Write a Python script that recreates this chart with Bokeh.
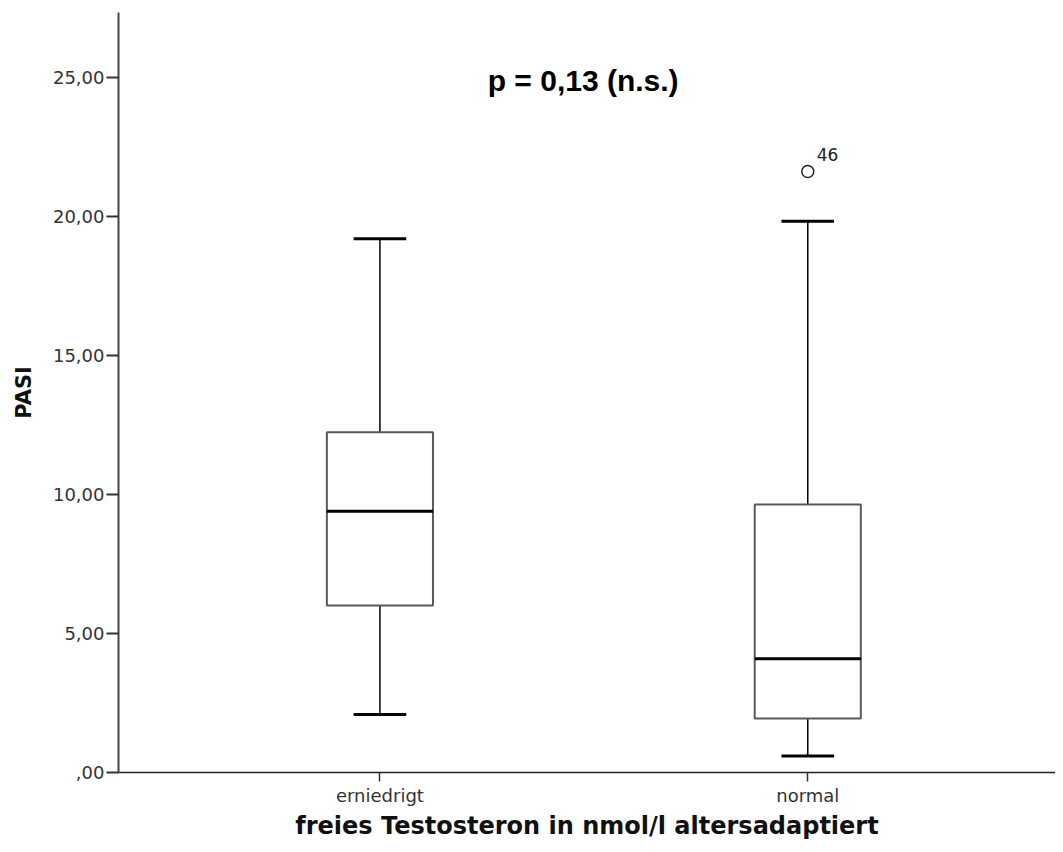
from bokeh.plotting import figure
from bokeh.models import FixedTicker, Label
from bokeh.core.properties import value
from bokeh.embed import file_html
from bokeh.resources import INLINE

# ---- data ----
categories = ["erniedrigt", "normal"]
lower_whisker = [2.09, 0.59]
q1 = [6.01, 1.94]
median = [9.40, 4.09]
q3 = [12.24, 9.64]
upper_whisker = [19.20, 19.83]
outlier_cat = ["normal"]
outlier_val = [21.62]
outlier_id = ["46"]
y_ticks = [0, 5, 10, 15, 20, 25]
y_tick_labels = [",00", "5,00", "10,00", "15,00", "20,00", "25,00"]
title_text = "p = 0,13 (n.s.)"

xs = [i + 1 for i in range(len(categories))]
ox = [categories.index(c) + 1 for c in outlier_cat]

BOX_W = 0.248
CAP_W = 0.123

p = figure(width=1055, height=844, output_backend="svg", toolbar_location=None,
           x_range=(0.389, 2.579), y_range=(0, 27.34),
           min_border_left=118, min_border_right=0, min_border_top=12, min_border_bottom=72)
p.grid.visible = False
p.outline_line_color = None
p.background_fill_color = "white"
p.border_fill_color = "white"

# whiskers
p.segment(x0=xs, y0=q3, x1=xs, y1=upper_whisker, line_color="black", line_width=1.5)
p.segment(x0=xs, y0=q1, x1=xs, y1=lower_whisker, line_color="black", line_width=1.5)
# caps
p.segment(x0=[x - CAP_W / 2 for x in xs], y0=upper_whisker,
          x1=[x + CAP_W / 2 for x in xs], y1=upper_whisker, line_color="black", line_width=3)
p.segment(x0=[x - CAP_W / 2 for x in xs], y0=lower_whisker,
          x1=[x + CAP_W / 2 for x in xs], y1=lower_whisker, line_color="black", line_width=3)
# boxes
p.vbar(x=xs, width=BOX_W, bottom=q1, top=q3, fill_color="white",
       line_color="#5a5a5a", line_width=2)
# medians
p.segment(x0=[x - BOX_W / 2 for x in xs], y0=median,
          x1=[x + BOX_W / 2 for x in xs], y1=median, line_color="black", line_width=3)
# outlier
p.scatter(x=ox, y=outlier_val, marker="circle", size=12, fill_color=None,
          line_color="#222222", line_width=1.5)
p.text(x=ox, y=outlier_val, text=outlier_id, x_offset=9, y_offset=-17,
       text_font=value("DejaVu Sans"), text_font_size="17px", text_color="#222222",
       text_baseline="middle", text_align="left")

# title label
p.add_layout(Label(x=1.475, y=24.9, text=title_text, text_font="Liberation Sans",
                   text_font_style="bold", text_font_size="30px", text_color="black",
                   text_align="center", text_baseline="middle"))

# axes
p.yaxis.ticker = FixedTicker(ticks=y_ticks)
p.yaxis.major_label_overrides = {t: l for t, l in zip(y_ticks, y_tick_labels)}
p.yaxis.minor_tick_line_color = None
p.yaxis.major_tick_in = 0
p.yaxis.major_tick_out = 12
p.yaxis.major_tick_line_color = "#333333"
p.yaxis.major_tick_line_width = 2
p.yaxis.axis_line_color = "#444444"
p.yaxis.axis_line_width = 2
p.yaxis.major_label_text_font = "DejaVu Sans"
p.yaxis.major_label_text_font_size = "18px"
p.yaxis.major_label_text_color = "#333333"
p.yaxis.major_label_standoff = 2
p.yaxis.axis_label = "PASI"
p.yaxis.axis_label_text_font = "DejaVu Sans"
p.yaxis.axis_label_text_font_style = "bold"
p.yaxis.axis_label_text_font_size = "21px"
p.yaxis.axis_label_text_color = "#111111"
p.yaxis.axis_label_standoff = 14

p.xaxis.ticker = FixedTicker(ticks=xs)
p.xaxis.major_label_overrides = {x: c for x, c in zip(xs, categories)}
p.xaxis.minor_tick_line_color = None
p.xaxis.major_tick_in = 0
p.xaxis.major_tick_out = 9
p.xaxis.major_tick_line_color = "#333333"
p.xaxis.major_tick_line_width = 1.5
p.xaxis.axis_line_color = "#222222"
p.xaxis.axis_line_width = 1.5
p.xaxis.major_label_text_font = "DejaVu Sans"
p.xaxis.major_label_text_font_size = "18px"
p.xaxis.major_label_text_color = "#333333"
p.xaxis.major_label_standoff = 3
p.xaxis.axis_label = "freies Testosteron in nmol/l altersadaptiert"
p.xaxis.axis_label_text_font = "DejaVu Sans"
p.xaxis.axis_label_text_font_style = "bold"
p.xaxis.axis_label_text_font_size = "24px"
p.xaxis.axis_label_text_color = "#111111"
p.xaxis.axis_label_standoff = 3

open("out.html", "w").write(file_html(p, INLINE))
